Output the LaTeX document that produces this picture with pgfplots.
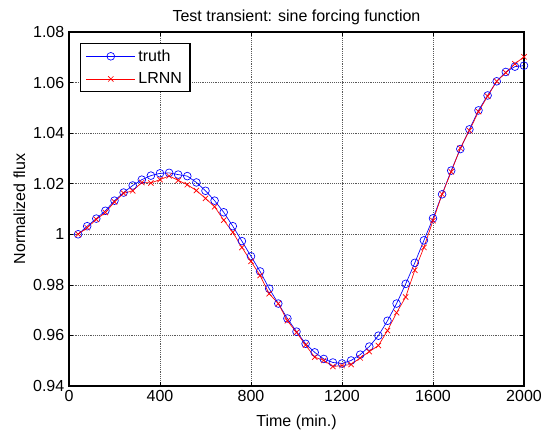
\documentclass[border=0pt]{standalone}
\usepackage{fontspec}
\setmainfont{Liberation Sans}
\usepackage{pgfplots}
\pgfplotsset{compat=1.18}

\pgfplotstableread{
x truth lrnn
40 1.0000 1.0000
80 1.0032 1.0026
120 1.0062 1.0059
160 1.0093 1.0086
200 1.0133 1.0128
240 1.0165 1.0162
280 1.0193 1.0172
320 1.0216 1.0205
360 1.0232 1.0203
400 1.0241 1.0216
440 1.0243 1.0231
480 1.0236 1.0213
520 1.0230 1.0196
560 1.0205 1.0173
600 1.0172 1.0142
640 1.0133 1.0109
680 1.0087 1.0056
720 1.0032 1.0008
760 0.9973 0.9948
800 0.9913 0.9893
840 0.9853 0.9837
880 0.9785 0.9765
920 0.9726 0.9726
960 0.9667 0.9658
1000 0.9615 0.9612
1040 0.9567 0.9562
1080 0.9533 0.9514
1120 0.9507 0.9501
1160 0.9493 0.9477
1200 0.9489 0.9481
1240 0.9501 0.9485
1280 0.9524 0.9511
1320 0.9556 0.9536
1360 0.9599 0.9560
1400 0.9658 0.9619
1440 0.9726 0.9690
1480 0.9804 0.9752
1520 0.9887 0.9858
1560 0.9976 0.9948
1600 1.0063 1.0054
1640 1.0158 1.0158
1680 1.0252 1.0247
1720 1.0337 1.0341
1760 1.0415 1.0410
1800 1.0490 1.0485
1840 1.0549 1.0546
1880 1.0605 1.0605
1920 1.0642 1.0639
1960 1.0663 1.0674
2000 1.0667 1.0702
}\flux

\begin{document}
\begin{tikzpicture}
\begin{axis}[
    scale only axis,
    width=341.25pt, height=265.5pt,
    xmin=0, xmax=2000, ymin=0.94, ymax=1.08,
    xtick={0,400,...,2000},
    ytick={0.94,0.96,...,1.08},
    xticklabel style={/pgf/number format/1000 sep={}},
    yticklabel style={/pgf/number format/fixed, /pgf/number format/precision=2},
    /pgf/number format/assume math mode=true,
    scaled ticks=false,
    tick align=inside,
    tick style={black, line width=0.4pt},
    major tick length=3pt,
    axis line style={black, line width=0.8pt},
    grid=major,
    grid style={densely dotted, black!65, line width=0.4pt},
    font=\fontsize{12}{14}\selectfont,
    title={Test transient: sine forcing function},
    title style={yshift=-4pt},
    xlabel={Time (min.)},
    ylabel={Normalized flux},
    xlabel style={yshift=-3pt},
    ylabel style={yshift=-1pt},
    legend cell align=left,
    legend style={at={(rel axis cs:0.024,0.969)}, anchor=north west,
        draw=black, line width=0.8pt, inner xsep=4pt, inner ysep=2.5pt,
        font=\fontsize{12}{14}\selectfont, row sep=3pt},
    legend image code/.code={%
        \draw[mark repeat=2, mark phase=2] plot coordinates {(0pt,0pt) (18.5pt,0pt) (37pt,0pt)};},
]
\addplot[color={rgb,255:red,0;green,0;blue,255}, line width=0.5pt, mark=o, mark size=2.9pt,
    mark options={solid, line width=0.5pt}] table[x=x, y=truth] {\flux};
\addlegendentry{truth}
\addplot[color={rgb,255:red,255;green,0;blue,0}, line width=0.5pt, mark=x, mark size=2.8pt,
    mark options={solid, line width=0.5pt}] table[x=x, y=lrnn] {\flux};
\addlegendentry{LRNN}
\end{axis}
\pgfresetboundingbox
\path[use as bounding box] (-51.75pt,-36pt) rectangle (354pt,289.5pt);
\end{tikzpicture}
\end{document}
